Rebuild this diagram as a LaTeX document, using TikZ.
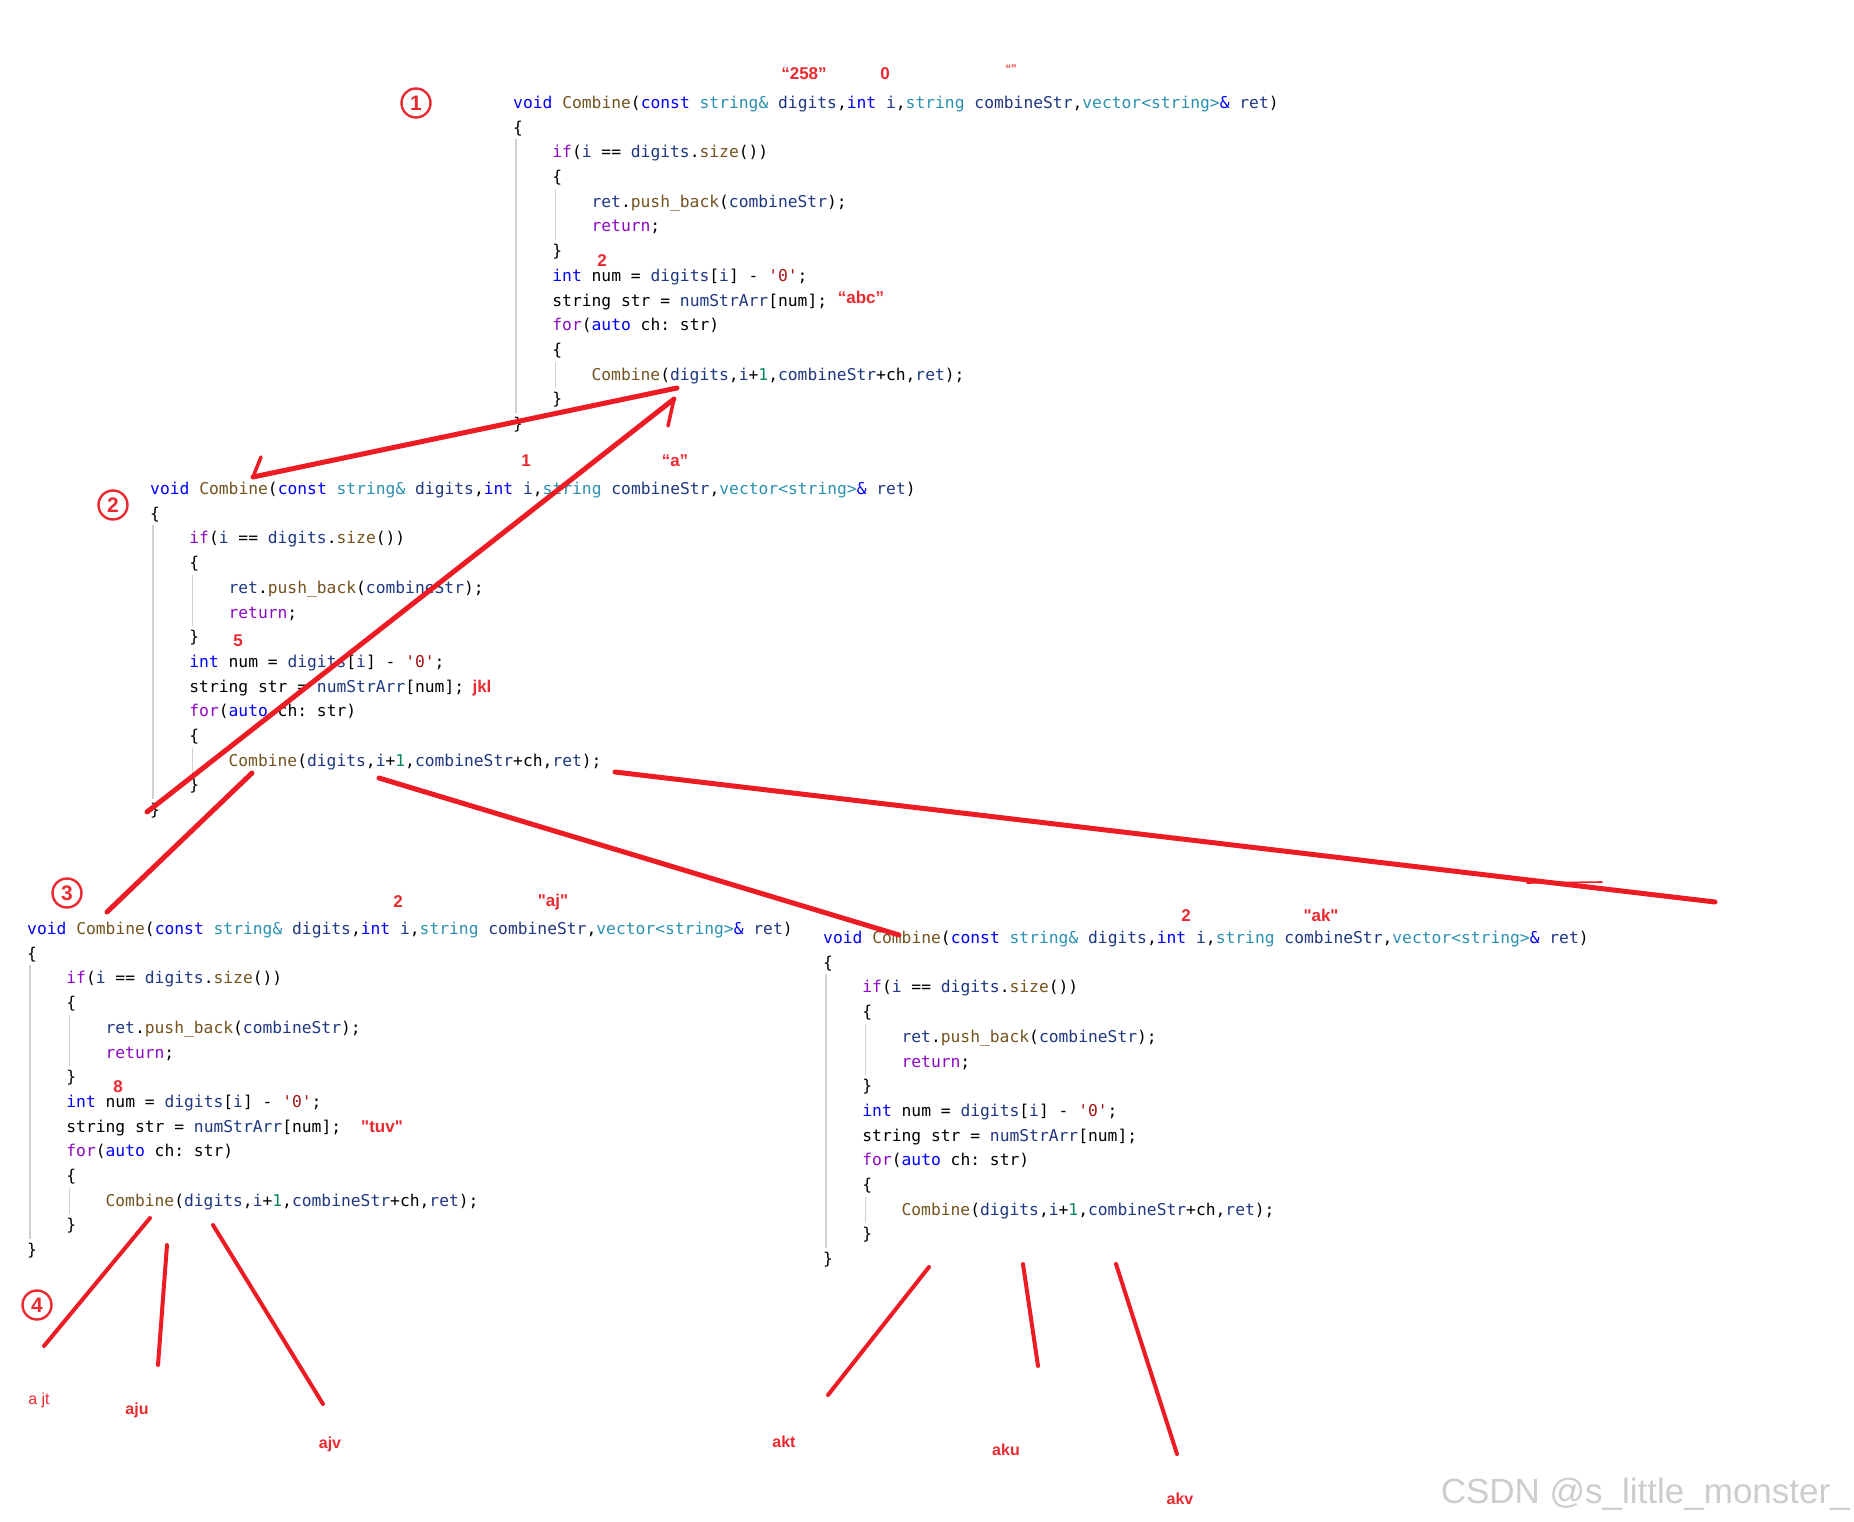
\documentclass[tikz,border=0pt]{standalone}
\usepackage{fontspec}
\setmainfont{Liberation Sans}[Ligatures=TeXOff]
\setmonofont{DejaVu Sans Mono}
\usetikzlibrary{calc}
\definecolor{kwblue}{HTML}{0000FF}
\definecolor{ctrlpurple}{HTML}{8F08C4}
\definecolor{typeteal}{HTML}{2B91AF}
\definecolor{fnbrown}{HTML}{74531F}
\definecolor{parnavy}{HTML}{1F377F}
\definecolor{numgreen}{HTML}{098658}
\definecolor{chrred}{HTML}{A31515}
\definecolor{guidegray}{HTML}{D0D0D0}
\definecolor{annred}{HTML}{EA2A30}
\definecolor{linered}{HTML}{ED1C24}
\definecolor{wmgray}{HTML}{CDCDCD}
\newcommand{\cKw}[1]{\textcolor{kwblue}{#1}}
\newcommand{\cCt}[1]{\textcolor{ctrlpurple}{#1}}
\newcommand{\cTy}[1]{\textcolor{typeteal}{#1}}
\newcommand{\cFn}[1]{\textcolor{fnbrown}{#1}}
\newcommand{\cPa}[1]{\textcolor{parnavy}{#1}}
\newcommand{\cNu}[1]{\textcolor{numgreen}{#1}}
\newcommand{\cCh}[1]{\textcolor{chrred}{#1}}
\tikzset{
  code/.style={anchor=base west, inner sep=0pt, text=black,
    font=\ttfamily\fontsize{16.3}{20}\selectfont},
  guide/.style={draw=guidegray, line width=1.2pt},
  ann/.style={text=annred, inner sep=0pt, font=\bfseries\fontsize{17}{18}\selectfont},
  leaflbl/.style={text=annred, inner sep=0pt, font=\bfseries\fontsize{16}{18}\selectfont},
  circnum/.style={circle, draw=annred, line width=2.4pt, minimum size=29pt,
    inner sep=0pt, text=annred, font=\bfseries\fontsize{21}{21}\selectfont},
  redline/.style={draw=linered, line width=5pt, line cap=round, line join=round},
  thinred/.style={draw=linered, line width=1.6pt, line cap=round},
}
% #1 prefix, #2 x, #3 y of first line centre
\newcommand{\CodeBlock}[3]{%
\begin{scope}[shift={(#2,#3)}]
  \node[code] (#1-0) at (0,6.5) {\cKw{void} \cFn{Combine}(\cKw{const} \cTy{string\&} \cPa{digits},\cKw{int} \cPa{i},\cTy{string} \cPa{combineStr},\cTy{vector<string>}\cKw{\&} \cPa{ret})};
  \node[code] (#1-1) at (0,31.2) {\{};
  \node[code] (#1-2) at (39.2,55.9) {\cCt{if}(\cPa{i} == \cPa{digits}.\cFn{size}())};
  \node[code] (#1-3) at (39.2,80.6) {\{};
  \node[code] (#1-4) at (78.4,105.3) {\cPa{ret}.\cFn{push\_back}(\cPa{combineStr});};
  \node[code] (#1-5) at (78.4,130.0) {\cCt{return};};
  \node[code] (#1-6) at (39.2,154.7) {\}};
  \node[code] (#1-7) at (39.2,179.4) {\cKw{int} num = \cPa{digits}[\cPa{i}] - \cCh{'0'};};
  \node[code] (#1-8) at (39.2,204.1) {string str = \cPa{numStrArr}[num];};
  \node[code] (#1-9) at (39.2,228.8) {\cCt{for}(\cKw{auto} ch: str)};
  \node[code] (#1-10) at (39.2,253.5) {\{};
  \node[code] (#1-11) at (78.4,278.2) {\cFn{Combine}(\cPa{digits},\cPa{i}+\cNu{1},\cPa{combineStr}+ch,\cPa{ret});};
  \node[code] (#1-12) at (39.2,302.9) {\}};
  \node[code] (#1-13) at (0,327.6) {\}};
  \draw[guide] (3,37) -- (3,311);
  \draw[guide] (42.2,87) -- (42.2,138);
  \draw[guide] (42.2,260) -- (42.2,286);
\end{scope}}
\begin{document}
\begin{tikzpicture}[x=1pt,y=-1pt]
\useasboundingbox[fill=white] (0,0) rectangle (1854,1522);

% code blocks
\CodeBlock{bA}{513}{102}
\CodeBlock{bB}{150}{488}
\CodeBlock{bC}{27}{928}
\CodeBlock{bD}{823}{937}

% circled step numbers
\node[circnum] (s1) at (416,103) {1};
\node[circnum] (s2) at (113,505) {2};
\node[circnum] (s3) at (67,893) {3};
\node[circnum] (s4) at (37,1305) {4};

% red annotations
\node[ann] (a1) at (804,74) {“258”};
\node[ann] (a2) at (885,74) {0};
\node[ann, font=\bfseries\fontsize{11}{12}\selectfont] (a3) at (1011,69) {“”};
\node[ann] (a4) at (602,261) {2};
\node[ann] (a5) at (861,297) {“abc”};
\node[ann] (a6) at (526,461) {1};
\node[ann] (a7) at (675,461) {“a”};
\node[ann] (a8) at (238,641) {5};
\node[ann] (a9) at (482,688) {jkl};
\node[ann] (a10) at (398,902) {2};
\node[ann] (a11) at (553,902) {"aj"};
\node[ann] (a12) at (118,1087) {8};
\node[ann] (a13) at (382,1127) {"tuv"};
\node[ann] (a14) at (1186,916) {2};
\node[ann] (a15) at (1321,915) {"ak"};

% leaf labels
\node[leaflbl, font=\fontsize{16}{18}\selectfont] (l1) at (39,1400) {a jt};
\node[leaflbl] (l2) at (137,1410) {aju};
\node[leaflbl] (l3) at (330,1444) {ajv};
\node[leaflbl] (l4) at (784,1442) {akt};
\node[leaflbl] (l5) at (1006,1450) {aku};
\node[leaflbl] (l6) at (1180,1499) {akv};

% watermark
\node[anchor=base east, inner sep=0pt, text=wmgray, font=\fontsize{35}{36}\selectfont] (wm) at (1850,1503) {CSDN @s\_little\_monster\_};

% connector end points
\coordinate (pA1) at (677,388);  \coordinate (pA2) at (253,477);
\coordinate (hA1) at (261,457);
\coordinate (pB1) at (147,812);  \coordinate (pB2) at (674,399);
\coordinate (hB2) at (668,426);
\coordinate (pC1) at (252,773);  \coordinate (pC2) at (107,912);
\coordinate (pD1) at (379,778);  \coordinate (pD2) at (899,935);
\coordinate (pE1) at (615,772);  \coordinate (pE2) at (1715,902);
\coordinate (xE1) at (1527,883); \coordinate (xE2) at (1602,882);
\coordinate (q1a) at (150,1218); \coordinate (q1b) at (44,1346);
\coordinate (q2a) at (167,1245); \coordinate (q2b) at (158,1365);
\coordinate (q3a) at (213,1225); \coordinate (q3b) at (323,1404);
\coordinate (q4a) at (929,1267); \coordinate (q4b) at (828,1395);
\coordinate (q5a) at (1023,1264); \coordinate (q5b) at (1038,1366);
\coordinate (q6a) at (1116,1264); \coordinate (q6b) at (1177,1454);

% red strokes
\draw[redline] (pA1) -- (pA2);
\draw[redline, line width=3.5pt] (hA1) -- (pA2);
\draw[redline] (pB1) -- (pB2);
\draw[redline, line width=3.5pt] (pB2) -- (hB2);
\draw[redline] (pC1) -- (pC2);
\draw[redline] (pD1) -- (pD2);
\draw[redline] (pE1) -- (pE2);
\draw[thinred] (xE1) -- (xE2);
\draw[redline, line width=4pt] (q1a) -- (q1b);
\draw[redline, line width=4pt] (q2a) -- (q2b);
\draw[redline, line width=4pt] (q3a) -- (q3b);
\draw[redline, line width=4pt] (q4a) -- (q4b);
\draw[redline, line width=4pt] (q5a) -- (q5b);
\draw[redline, line width=4pt] (q6a) -- (q6b);
\end{tikzpicture}
\end{document}
